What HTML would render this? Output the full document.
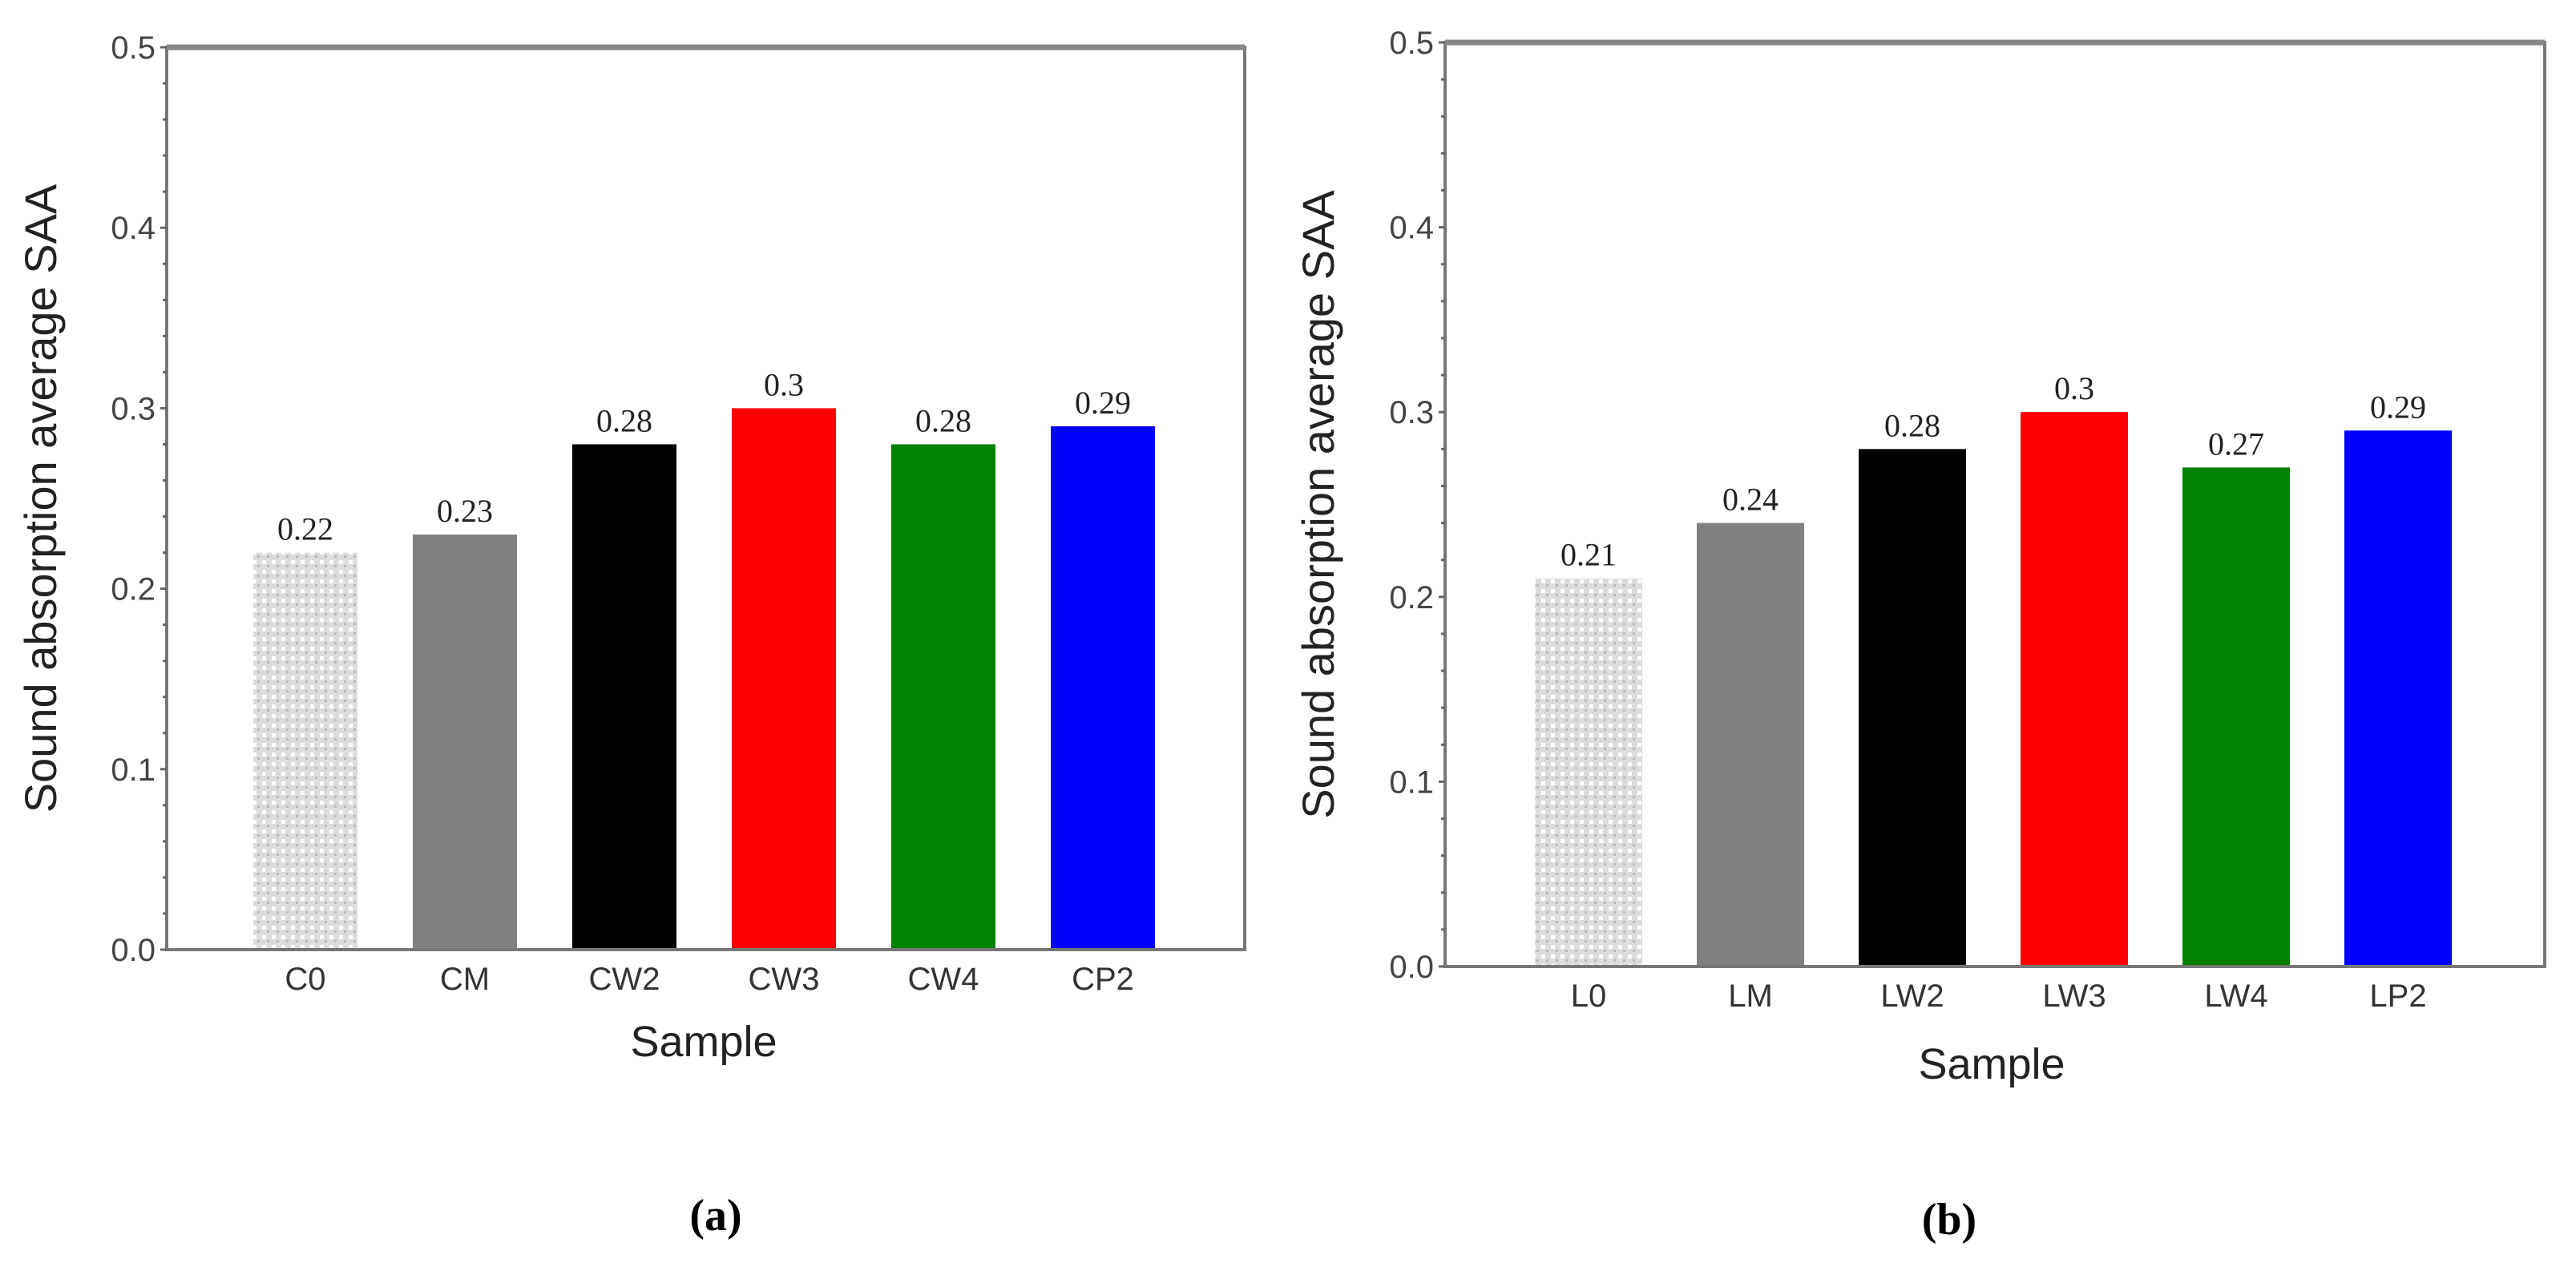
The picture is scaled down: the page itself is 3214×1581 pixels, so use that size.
<!DOCTYPE html>
<html><head><meta charset="utf-8"><style>
html,body{margin:0;padding:0;background:#fff;}
svg{display:block;}
</style></head><body>
<svg id="fig" width="3214" height="1581" viewBox="0 0 3214 1581" xmlns="http://www.w3.org/2000/svg">
<defs>
<pattern id="chk" width="12" height="12" patternUnits="userSpaceOnUse">
<rect width="12" height="12" fill="#dcdcdc"/>
<rect x="3" y="3" width="5" height="5" fill="#ffffff"/>
<rect x="9" y="9" width="3" height="3" fill="#b8b8b8"/>
</pattern>
</defs>
</svg>
<script>
const catsA = ["C0","CM","CW2","CW3","CW4","CP2"];
const valsA = [0.22,0.23,0.28,0.30,0.28,0.29];
const lblsA = ["0.22","0.23","0.28","0.3","0.28","0.29"];
const catsB = ["L0","LM","LW2","LW3","LW4","LP2"];
const valsB = [0.21,0.24,0.28,0.30,0.27,0.29];
const lblsB = ["0.21","0.24","0.28","0.3","0.27","0.29"];
const yTicks = ["0.0","0.1","0.2","0.3","0.4","0.5"];
const barFills = ["url(#chk)","#808080","#000000","#ff0000","#008000","#0000ff"];

const NS="http://www.w3.org/2000/svg";
const svg=document.getElementById('fig');
function mk(tag,attrs,parent){const e=document.createElementNS(NS,tag);for(const k in attrs)e.setAttribute(k,attrs[k]);(parent||svg).appendChild(e);return e;}

function chart(cfg,cats,vals,lbls){
  const g=mk('g',{});
  
  
  const yS=v=>cfg.y0-(v/0.5)*(cfg.y0-cfg.yTop);
  const xS=i=>cfg.c0+i*cfg.step;
  cats.forEach((c,i)=>{
    const r=mk('rect',{x:xS(i)-cfg.bw/2,y:yS(vals[i]),width:cfg.bw,height:cfg.y0-yS(vals[i]),fill:barFills[i]},g);
    
    
    const t=mk('text',{x:xS(i),y:yS(vals[i])-16,'text-anchor':'middle','font-family':'Liberation Serif, serif','font-size':'40',fill:'#222'},g);
    t.textContent=lbls[i];
    
    
    const ct=mk('text',{x:xS(i),y:cfg.y0+50,'text-anchor':'middle','font-family':'Liberation Sans Narrow, Liberation Sans, sans-serif','font-size':'40',fill:'#333'},g);
    ct.textContent=c;
    
    
  });
  const fr=mk('rect',{x:cfg.xL,y:cfg.yTop,width:cfg.xR-cfg.xL,height:cfg.y0-cfg.yTop,fill:'none',stroke:'#777','stroke-width':4},g);
  
  
  mk('line',{x1:cfg.xL,x2:cfg.xR,y1:cfg.yTop,y2:cfg.yTop,stroke:'#888','stroke-width':7},g);
  for(let k=0;k<=25;k++){
    const v=k*0.02,y=yS(v),major=(k%5===0);
    mk('line',{x1:cfg.xL-(major?8:5),x2:cfg.xL,y1:y,y2:y,stroke:'#666','stroke-width':3},g);
  }
  yTicks.forEach((s,i)=>{
    const t=mk('text',{x:cfg.xL-14,y:yS(parseFloat(s))+14,'text-anchor':'end','font-family':'Liberation Sans Narrow, Liberation Sans, sans-serif','font-size':'40',fill:'#444'},g);
    t.textContent=s;
    
    
  });
  const xt=mk('text',{x:cfg.xTitleX,y:cfg.xTitleY,'text-anchor':'middle','font-family':'Liberation Sans, sans-serif','font-size':'54',fill:'#222'},g);
  xt.textContent='Sample';
  
  
  const yt=mk('text',{x:0,y:0,'text-anchor':'middle','font-family':'Liberation Sans, sans-serif','font-size':'56',fill:'#222',transform:`translate(${cfg.yTitleX},${(cfg.yTop+cfg.y0)/2}) rotate(-90)`},g);
  yt.textContent='Sound absorption average SAA';
  
  
  const cap=mk('text',{x:cfg.capX,y:cfg.capY,'text-anchor':'middle','font-family':'Liberation Serif, serif','font-size':'56','font-weight':'bold',fill:'#000'},g);
  cap.textContent=cfg.cap;
  
  
}
chart({name:'chart-a',xL:208,xR:1553,yTop:59,y0:1185,c0:381,step:199,bw:130,xTitleX:878,xTitleY:1318,yTitleX:70,capX:893,capY:1535,cap:'(a)'},catsA,valsA,lblsA);
chart({name:'chart-b',xL:1803,xR:3175,yTop:53,y0:1206,c0:1982,step:202,bw:134,xTitleX:2485,xTitleY:1346,yTitleX:1664,capX:2432,capY:1540,cap:'(b)'},catsB,valsB,lblsB);
</script>
</body></html>
